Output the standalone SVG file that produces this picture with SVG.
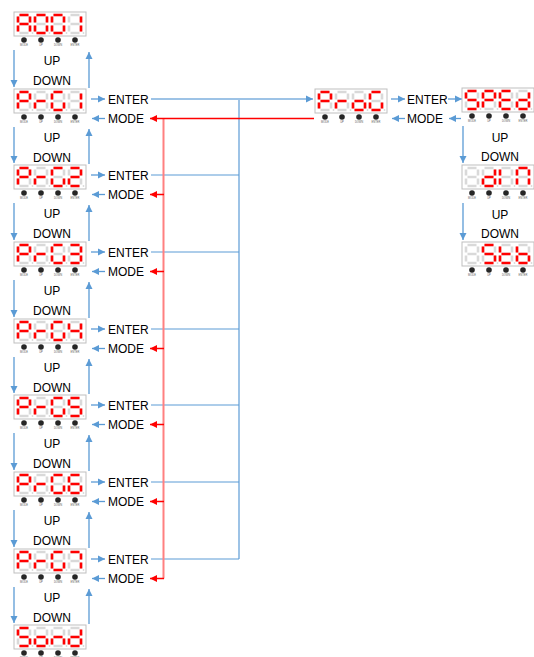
<svg xmlns="http://www.w3.org/2000/svg" xmlns:xlink="http://www.w3.org/1999/xlink" width="534" height="657" viewBox="0 0 534 657">
<style>
.on{stroke:#ff0000;stroke-width:2.6;fill:none}
.off{stroke:#d9d9d9;stroke-width:2.6;fill:none}
.box{fill:#ffffff;stroke:#bfbfbf;stroke-width:1}
.btn{fill:#262626}
.tiny{font-family:"Liberation Sans",Arial,sans-serif;font-size:2.6px;fill:#595959;text-anchor:middle}
.lbl{font-family:"Liberation Sans",Arial,sans-serif;font-size:12px;fill:#000}
.mid{text-anchor:middle}
.ba{stroke:#5b9bd5;stroke-width:1.3;fill:none}
.bl{stroke:#5b9bd5;stroke-width:1;fill:none}
.bw{stroke:#9dc3e6;stroke-width:2;fill:none}
.ra{stroke:#ff0000;stroke-width:1.5;fill:none}
.rw{stroke:#ff8080;stroke-width:2;fill:none}
</style>
<defs>
<marker id="mb" markerUnits="userSpaceOnUse" markerWidth="8" markerHeight="8" refX="7" refY="4" orient="auto"><path d="M0,0.5L7,4L0,7.5z" fill="#5b9bd5"/></marker>
<marker id="mr" markerUnits="userSpaceOnUse" markerWidth="8" markerHeight="8" refX="7" refY="4" orient="auto"><path d="M0,0.5L7,4L0,7.5z" fill="#ff0000"/></marker>
<path id="g8" d="M1.5,0H10.5M12,1.5V7.5M12,10.5V16.5M1.5,18H10.5M0,10.5V16.5M0,1.5V7.5M1.5,9H10.5"/>
<path id="gA" d="M1.5,0H10.5M12,1.5V7.5M12,10.5V16.5M0,10.5V16.5M0,1.5V7.5M1.5,9H10.5"/>
<path id="g0" d="M1.5,0H10.5M12,1.5V7.5M12,10.5V16.5M1.5,18H10.5M0,10.5V16.5M0,1.5V7.5"/>
<path id="g1" d="M12,1.5V7.5M12,10.5V16.5"/>
<path id="gP" d="M1.5,0H10.5M12,1.5V7.5M0,10.5V16.5M0,1.5V7.5M1.5,9H10.5"/>
<path id="gr" d="M0,10.5V16.5M1.5,9H10.5"/>
<path id="gG" d="M1.5,0H10.5M12,10.5V16.5M1.5,18H10.5M0,10.5V16.5M0,1.5V7.5"/>
<path id="g2" d="M1.5,0H10.5M12,1.5V7.5M1.5,9H10.5M0,10.5V16.5M1.5,18H10.5"/>
<path id="g3" d="M1.5,0H10.5M12,1.5V7.5M1.5,9H10.5M12,10.5V16.5M1.5,18H10.5"/>
<path id="g4" d="M0,1.5V7.5M1.5,9H10.5M12,1.5V7.5M12,10.5V16.5"/>
<path id="g5" d="M1.5,0H10.5M0,1.5V7.5M1.5,9H10.5M12,10.5V16.5M1.5,18H10.5"/>
<path id="g6" d="M1.5,0H10.5M0,1.5V7.5M1.5,9H10.5M0,10.5V16.5M1.5,18H10.5M12,10.5V16.5"/>
<path id="g7" d="M1.5,0H10.5M12,1.5V7.5M12,10.5V16.5"/>
<path id="go" d="M1.5,9H10.5M12,10.5V16.5M1.5,18H10.5M0,10.5V16.5"/>
<path id="gn" d="M0,10.5V16.5M1.5,9H10.5M12,10.5V16.5"/>
<path id="gd" d="M12,1.5V7.5M12,10.5V16.5M1.5,18H10.5M0,10.5V16.5M1.5,9H10.5"/>
<path id="gE" d="M1.5,0H10.5M0,1.5V7.5M1.5,9H10.5M0,10.5V16.5M1.5,18H10.5"/>
<path id="gI" d="M0,10.5V16.5M0,1.5V7.5"/>
<path id="gN" d="M1.5,0H10.5M12,1.5V7.5M12,10.5V16.5M0,10.5V16.5M0,1.5V7.5"/>
<path id="gt" d="M0,1.5V7.5M1.5,9H10.5M0,10.5V16.5M1.5,18H10.5"/>
<path id="gb" d="M0,1.5V7.5M1.5,9H10.5M0,10.5V16.5M1.5,18H10.5M12,10.5V16.5"/>
<g id="disp">
<rect class="box" x="0" y="0" width="72" height="24"/>
<use href="#g8" class="off" x="4" y="3"/>
<use href="#g8" class="off" x="21" y="3"/>
<use href="#g8" class="off" x="38" y="3"/>
<use href="#g8" class="off" x="55" y="3"/>
<circle cx="18.5" cy="21" r="0.9" fill="#d9d9d9"/>
<circle cx="35.5" cy="21" r="0.9" fill="#d9d9d9"/>
<circle cx="52.5" cy="21" r="0.9" fill="#d9d9d9"/>
<circle cx="69.5" cy="21" r="0.9" fill="#d9d9d9"/>
<circle class="btn" cx="10" cy="28" r="2.8"/>
<circle class="btn" cx="27" cy="28" r="2.8"/>
<circle class="btn" cx="44" cy="28" r="2.8"/>
<circle class="btn" cx="61" cy="28" r="2.8"/>
<text class="tiny" x="10" y="33.5">MODE</text>
<text class="tiny" x="27" y="33.5">UP</text>
<text class="tiny" x="44" y="33.5">DOWN</text>
<text class="tiny" x="61" y="33.5">ENTER</text>
</g>
</defs>
<rect width="534" height="657" fill="#ffffff"/>

<g id="connectors">
<g class="ba">
<line x1="14" y1="50" x2="14" y2="87" marker-end="url(#mb)"/><line x1="89" y1="88" x2="89" y2="52" marker-end="url(#mb)"/>
<line x1="14" y1="127" x2="14" y2="163" marker-end="url(#mb)"/><line x1="89" y1="164" x2="89" y2="129" marker-end="url(#mb)"/>
<line x1="14" y1="203" x2="14" y2="240" marker-end="url(#mb)"/><line x1="89" y1="241" x2="89" y2="205" marker-end="url(#mb)"/>
<line x1="14" y1="280" x2="14" y2="317" marker-end="url(#mb)"/><line x1="89" y1="318" x2="89" y2="282" marker-end="url(#mb)"/>
<line x1="14" y1="357" x2="14" y2="393" marker-end="url(#mb)"/><line x1="89" y1="394" x2="89" y2="359" marker-end="url(#mb)"/>
<line x1="14" y1="433" x2="14" y2="470" marker-end="url(#mb)"/><line x1="89" y1="471" x2="89" y2="435" marker-end="url(#mb)"/>
<line x1="14" y1="510" x2="14" y2="547" marker-end="url(#mb)"/><line x1="89" y1="548" x2="89" y2="512" marker-end="url(#mb)"/>
<line x1="14" y1="587" x2="14" y2="623" marker-end="url(#mb)"/><line x1="89" y1="624" x2="89" y2="589" marker-end="url(#mb)"/>
<line x1="91" y1="99" x2="105" y2="99" marker-end="url(#mb)"/><line x1="105" y1="118.5" x2="92" y2="118.5" marker-end="url(#mb)"/>
<line x1="91" y1="175" x2="105" y2="175" marker-end="url(#mb)"/><line x1="105" y1="194.5" x2="92" y2="194.5" marker-end="url(#mb)"/>
<line x1="91" y1="252" x2="105" y2="252" marker-end="url(#mb)"/><line x1="105" y1="271.5" x2="92" y2="271.5" marker-end="url(#mb)"/>
<line x1="91" y1="329" x2="105" y2="329" marker-end="url(#mb)"/><line x1="105" y1="348.5" x2="92" y2="348.5" marker-end="url(#mb)"/>
<line x1="91" y1="405" x2="105" y2="405" marker-end="url(#mb)"/><line x1="105" y1="424.5" x2="92" y2="424.5" marker-end="url(#mb)"/>
<line x1="91" y1="482" x2="105" y2="482" marker-end="url(#mb)"/><line x1="105" y1="501.5" x2="92" y2="501.5" marker-end="url(#mb)"/>
<line x1="91" y1="559" x2="105" y2="559" marker-end="url(#mb)"/><line x1="105" y1="578.5" x2="92" y2="578.5" marker-end="url(#mb)"/>
<line x1="391" y1="99" x2="405" y2="99" marker-end="url(#mb)"/><line x1="448" y1="99" x2="462" y2="99" marker-end="url(#mb)"/>
<line x1="405" y1="118.5" x2="392" y2="118.5" marker-end="url(#mb)"/><line x1="461" y1="118.5" x2="449" y2="118.5" marker-end="url(#mb)"/>
<line x1="463" y1="126" x2="463" y2="163" marker-end="url(#mb)"/>
<line x1="463" y1="203" x2="463" y2="240" marker-end="url(#mb)"/>
</g>
<line class="bw" x1="239" y1="99" x2="239" y2="559"/>
<line class="bw" x1="151" y1="99" x2="313" y2="99" marker-end="url(#mb)"/>
<g class="bl">
<line x1="151" y1="175" x2="239" y2="175"/>
<line x1="151" y1="252" x2="239" y2="252"/>
<line x1="151" y1="329" x2="239" y2="329"/>
<line x1="151" y1="405" x2="239" y2="405"/>
<line x1="151" y1="482" x2="239" y2="482"/>
<line x1="151" y1="559" x2="239" y2="559"/>
</g>
<line class="rw" x1="163.5" y1="118.5" x2="163.5" y2="578.5"/>
<g class="ra">
<line x1="314" y1="118.5" x2="150" y2="118.5" marker-end="url(#mr)"/>
<line x1="164" y1="194.5" x2="150" y2="194.5" marker-end="url(#mr)"/>
<line x1="164" y1="271.5" x2="150" y2="271.5" marker-end="url(#mr)"/>
<line x1="164" y1="348.5" x2="150" y2="348.5" marker-end="url(#mr)"/>
<line x1="164" y1="424.5" x2="150" y2="424.5" marker-end="url(#mr)"/>
<line x1="164" y1="501.5" x2="150" y2="501.5" marker-end="url(#mr)"/>
<line x1="164" y1="578.5" x2="150" y2="578.5" marker-end="url(#mr)"/>
</g>
</g>

<g id="labels" class="lbl">
<text class="mid" x="52" y="65">UP</text><text class="mid" x="52" y="85">DOWN</text>
<text class="mid" x="52" y="142">UP</text><text class="mid" x="52" y="162">DOWN</text>
<text class="mid" x="52" y="218">UP</text><text class="mid" x="52" y="238">DOWN</text>
<text class="mid" x="52" y="295">UP</text><text class="mid" x="52" y="315">DOWN</text>
<text class="mid" x="52" y="372">UP</text><text class="mid" x="52" y="392">DOWN</text>
<text class="mid" x="52" y="448">UP</text><text class="mid" x="52" y="468">DOWN</text>
<text class="mid" x="52" y="525">UP</text><text class="mid" x="52" y="545">DOWN</text>
<text class="mid" x="52" y="602">UP</text><text class="mid" x="52" y="622">DOWN</text>
<text x="108" y="103.5">ENTER</text><text x="108" y="123">MODE</text>
<text x="108" y="179.5">ENTER</text><text x="108" y="199">MODE</text>
<text x="108" y="256.5">ENTER</text><text x="108" y="276">MODE</text>
<text x="108" y="333.5">ENTER</text><text x="108" y="353">MODE</text>
<text x="108" y="409.5">ENTER</text><text x="108" y="429">MODE</text>
<text x="108" y="486.5">ENTER</text><text x="108" y="506">MODE</text>
<text x="108" y="563.5">ENTER</text><text x="108" y="583">MODE</text>
<text x="407" y="103.5">ENTER</text><text x="407" y="123">MODE</text>
<text class="mid" x="500" y="142">UP</text><text class="mid" x="500" y="161">DOWN</text>
<text class="mid" x="500" y="219">UP</text><text class="mid" x="500" y="238">DOWN</text>
</g>

<g id="n-a001" transform="translate(14,12)"><use href="#disp"/><use href="#gA" class="on" x="4" y="3"/><use href="#g0" class="on" x="21" y="3"/><use href="#g0" class="on" x="38" y="3"/><use href="#g1" class="on" x="55" y="3"/></g>
<g id="n-prg1" transform="translate(14,89)"><use href="#disp"/><use href="#gP" class="on" x="4" y="3"/><use href="#gr" class="on" x="21" y="3"/><use href="#gG" class="on" x="38" y="3"/><use href="#g1" class="on" x="55" y="3"/></g>
<g id="n-prg2" transform="translate(14,165)"><use href="#disp"/><use href="#gP" class="on" x="4" y="3"/><use href="#gr" class="on" x="21" y="3"/><use href="#gG" class="on" x="38" y="3"/><use href="#g2" class="on" x="55" y="3"/></g>
<g id="n-prg3" transform="translate(14,242)"><use href="#disp"/><use href="#gP" class="on" x="4" y="3"/><use href="#gr" class="on" x="21" y="3"/><use href="#gG" class="on" x="38" y="3"/><use href="#g3" class="on" x="55" y="3"/></g>
<g id="n-prg4" transform="translate(14,319)"><use href="#disp"/><use href="#gP" class="on" x="4" y="3"/><use href="#gr" class="on" x="21" y="3"/><use href="#gG" class="on" x="38" y="3"/><use href="#g4" class="on" x="55" y="3"/></g>
<g id="n-prg5" transform="translate(14,395)"><use href="#disp"/><use href="#gP" class="on" x="4" y="3"/><use href="#gr" class="on" x="21" y="3"/><use href="#gG" class="on" x="38" y="3"/><use href="#g5" class="on" x="55" y="3"/></g>
<g id="n-prg6" transform="translate(14,472)"><use href="#disp"/><use href="#gP" class="on" x="4" y="3"/><use href="#gr" class="on" x="21" y="3"/><use href="#gG" class="on" x="38" y="3"/><use href="#g6" class="on" x="55" y="3"/></g>
<g id="n-prg7" transform="translate(14,549)"><use href="#disp"/><use href="#gP" class="on" x="4" y="3"/><use href="#gr" class="on" x="21" y="3"/><use href="#gG" class="on" x="38" y="3"/><use href="#g7" class="on" x="55" y="3"/></g>
<g id="n-sond" transform="translate(14,625)"><use href="#disp"/><use href="#g5" class="on" x="4" y="3"/><use href="#go" class="on" x="21" y="3"/><use href="#gn" class="on" x="38" y="3"/><use href="#gd" class="on" x="55" y="3"/></g>
<g id="n-prog" transform="translate(315,89)"><use href="#disp"/><use href="#gP" class="on" x="4" y="3"/><use href="#gr" class="on" x="21" y="3"/><use href="#go" class="on" x="38" y="3"/><use href="#gG" class="on" x="55" y="3"/></g>
<g id="n-sped" transform="translate(462,88)"><use href="#disp"/><use href="#g5" class="on" x="4" y="3"/><use href="#gP" class="on" x="21" y="3"/><use href="#gE" class="on" x="38" y="3"/><use href="#gd" class="on" x="55" y="3"/></g>
<g id="n-din" transform="translate(462,165)"><use href="#disp"/><use href="#gd" class="on" x="21" y="3"/><use href="#gI" class="on" x="38" y="3"/><use href="#gN" class="on" x="55" y="3"/></g>
<g id="n-stb" transform="translate(462,242)"><use href="#disp"/><use href="#g5" class="on" x="21" y="3"/><use href="#gt" class="on" x="38" y="3"/><use href="#gb" class="on" x="55" y="3"/></g>
</svg>
